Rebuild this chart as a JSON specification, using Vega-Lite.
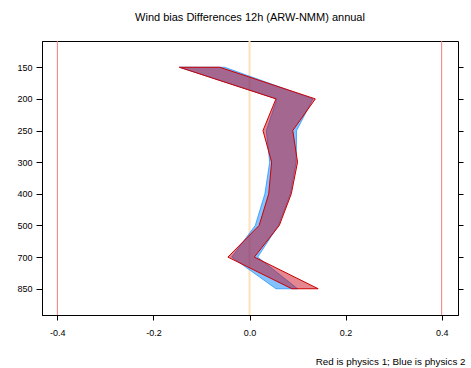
{
  "$schema": "https://vega.github.io/schema/vega-lite/v6.json",
  "autosize": "none",
  "width": 416,
  "height": 274,
  "padding": {"left": 42, "top": 41, "right": 13, "bottom": 53},
  "background": "white",
  "config": {
    "font": "Liberation Sans",
    "view": {"stroke": "black", "strokeWidth": 1},
    "axis": {"grid": false, "domainColor": "black", "tickColor": "black", "labelColor": "black", "labelFont": "Liberation Sans", "labelFontSize": 9}
  },
  "title": {"text": "Wind bias Differences 12h (ARW-NMM) annual", "fontSize": 11, "fontWeight": "normal", "font": "Liberation Sans", "color": "black", "offset": 17, "anchor": "middle"},
  "datasets": {
    "bands": [
      {"level": 150, "idx": 1, "red_lo": -0.146, "red_hi": -0.062, "blue_lo": -0.146, "blue_hi": -0.052},
      {"level": 200, "idx": 2, "red_lo": 0.055, "red_hi": 0.137, "blue_lo": 0.057, "blue_hi": 0.132},
      {"level": 250, "idx": 3, "red_lo": 0.028, "red_hi": 0.090, "blue_lo": 0.035, "blue_hi": 0.098},
      {"level": 300, "idx": 4, "red_lo": 0.046, "red_hi": 0.100, "blue_lo": 0.042, "blue_hi": 0.097},
      {"level": 400, "idx": 5, "red_lo": 0.040, "red_hi": 0.087, "blue_lo": 0.032, "blue_hi": 0.085},
      {"level": 500, "idx": 6, "red_lo": 0.020, "red_hi": 0.062, "blue_lo": 0.012, "blue_hi": 0.060},
      {"level": 700, "idx": 7, "red_lo": -0.045, "red_hi": 0.010, "blue_lo": -0.037, "blue_hi": 0.017},
      {"level": 850, "idx": 8, "red_lo": 0.088, "red_hi": 0.143, "blue_lo": 0.055, "blue_hi": 0.100}
    ],
    "limits": [{"x": -0.4}, {"x": 0.4}],
    "zero": [{"x": 0.0}]
  },
  "layer": [
    {
      "data": {"name": "limits"},
      "mark": {"type": "rule", "strokeWidth": 1, "color": "#f27c7c"},
      "encoding": {
        "x": {"field": "x", "type": "quantitative", "scale": {"domain": [-0.432, 0.434], "nice": false, "zero": false},
          "axis": {"values": [-0.4, -0.2, 0, 0.2, 0.4], "format": ".1f", "labelExpr": "replace(datum.label, '\u2212', '-')", "tickSize": 5, "labelPadding": 8, "title": "Red is physics 1; Blue is physics 2", "titleFontSize": 9.8, "titleFontWeight": "normal", "titleColor": "black", "titleFont": "Liberation Sans", "titleAnchor": "end", "titleAlign": "right", "titleBaseline": "alphabetic", "titleX": 423, "titleY": 49}}
      }
    },
    {
      "data": {"name": "zero"},
      "mark": {"type": "rule", "strokeWidth": 2, "color": "#fde0bd"},
      "encoding": {
        "x": {"field": "x", "type": "quantitative"}
      }
    },
    {
      "data": {"name": "bands"},
      "mark": {"type": "area", "orient": "horizontal", "fill": "#1e90ff", "fillOpacity": 0.55, "stroke": "#2a96ff", "strokeWidth": 0.8},
      "encoding": {
        "y": {"field": "idx", "type": "quantitative", "scale": {"domain": [0.17, 8.83], "reverse": true, "nice": false, "zero": false},
          "axis": {"orient": "left", "values": [1, 2, 3, 4, 5, 6, 7, 8], "labelExpr": "['150','200','250','300','400','500','700','850'][datum.value-1]", "tickSize": 6, "labelPadding": 4, "title": null}},
        "x": {"field": "blue_lo", "type": "quantitative"},
        "x2": {"field": "blue_hi"}
      }
    },
    {
      "data": {"name": "bands"},
      "mark": {"type": "area", "orient": "horizontal", "fill": "#c80014", "fillOpacity": 0.47, "stroke": "#cc0000", "strokeWidth": 1},
      "encoding": {
        "y": {"field": "idx", "type": "quantitative", "axis": {"orient": "right", "values": [1, 2, 3, 4, 5, 6, 7, 8], "labels": false, "tickSize": 5, "title": null, "domain": false}},
        "x": {"field": "red_lo", "type": "quantitative"},
        "x2": {"field": "red_hi"}
      }
    }
  ],
  "resolve": {"axis": {"y": "independent"}}
}
